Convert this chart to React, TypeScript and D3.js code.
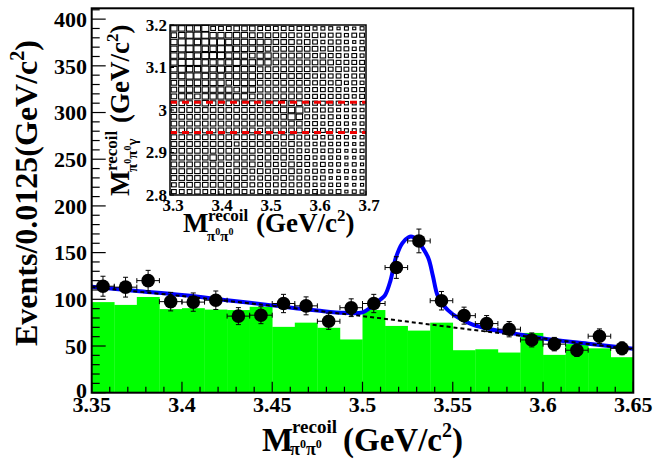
import React from 'react';
import * as d3 from 'd3';

// ---------- main histogram data ----------
const binWidth = 0.0125;
const massCenters = [3.35625, 3.36875, 3.38125, 3.39375, 3.40625, 3.41875, 3.43125, 3.44375,
  3.45625, 3.46875, 3.48125, 3.49375, 3.50625, 3.51875, 3.53125, 3.54375,
  3.55625, 3.56875, 3.58125, 3.59375, 3.60625, 3.61875, 3.63125, 3.64375];
const dataCounts = [114, 113, 120, 97.5, 97, 99, 82, 83, 95.5, 93, 76.5, 91,
  95.5, 134, 162.5, 98.5, 82.5, 74, 68, 56.5, 52, 45.5, 60.5, 47.5];
const dataErrors = [10.7, 10.6, 11.0, 9.9, 9.8, 9.9, 9.1, 9.1, 9.8, 9.6, 8.7, 9.5,
  9.8, 11.6, 12.7, 9.9, 9.1, 8.6, 8.2, 7.5, 7.2, 6.7, 7.8, 6.9];
const bkgMC = [97, 94, 102.5, 89.5, 90.5, 89, 88.5, 92, 70.5, 75, 69.5, 57,
  88.5, 71.5, 66.5, 75, 45.5, 46.5, 43, 64, 40.5, 52, 47.5, 38];

// fit curve (total)
const fitX = [3.35, 3.375, 3.4, 3.425, 3.45, 3.475, 3.49, 3.5, 3.505, 3.51, 3.5125, 3.5155, 3.5184,
  3.522, 3.5255, 3.5275, 3.53, 3.533, 3.5365, 3.539, 3.5415, 3.545, 3.55, 3.555, 3.5614, 3.5707,
  3.585, 3.6, 3.625, 3.65];
const fitY = [113.5, 109, 104.5, 99, 93.5, 88, 85.5, 86, 92, 100, 104.5, 120, 144,
  160, 166.5, 167, 164, 156, 144, 125, 104.5, 93, 84, 78.5, 72.5, 67.9,
  63, 58, 52.5, 47];
// background component
const bkgX = [3.35, 3.4, 3.45, 3.5, 3.55, 3.6, 3.65];
const bkgY = [113, 103.5, 93, 82, 70, 58, 46.5];

// axis ticks
const xTickLabels = [3.35, 3.4, 3.45, 3.5, 3.55, 3.6, 3.65];
const yTickLabels = [0, 50, 100, 150, 200, 250, 300, 350, 400];

// ---------- inset (2D box plot) ----------
const insetXTicks = [3.3, 3.4, 3.5, 3.6, 3.7];
const insetYTicks = [2.8, 2.9, 3.0, 3.1, 3.2];
const insetCutLines = [3.018, 2.947];
// box size level per cell (rows from top = 3.2 down to 2.8, 25 columns 3.3 -> 3.7)
const insetRows = [
  '8888966677766666665554545',
  '7899988888777777667666566',
  '8998999888888777676566545',
  '8999889988887777777676656',
  '8898999888788777776766565',
  '8999888898888777777776666',
  '8988989888877777777767666',
  '8899888888877787776666566',
  '7888888788877777776767565',
  '7888888878877777766666566',
  '7887888888777777766666656',
  '7777877777777787766666555',
  '7777777777777788966665555',
  '7777777777777779866565555',
  '7777777777777777766565545',
  '7777777777767777766656555',
  '7777777777777677666565545',
  '7777777767777767665655545',
  '7777777777767776656565455',
  '7777787777767676665555445',
  '7777777677767667665655454',
  '7777777677676767656554545',
  '7777777777667676665645455',
  '6777777777666666665555444',
  '6667667676566566556556455',
];

const FONT = "'Liberation Serif', 'DejaVu Serif', serif";

export default function App() {
  const W = 653, H = 459;
  const L = 91.7, R = 633.3, T = 8.3, B = 392.7;
  const x = d3.scaleLinear().domain([3.35, 3.65]).range([L, R]);
  const y = d3.scaleLinear().domain([0, 411.6]).range([B, T]);

  const line = d3.line<[number, number]>()
    .x(d => x(d[0])).y(d => y(d[1]))
    .curve(d3.curveCatmullRom.alpha(0.5));
  const fitPath = line(fitX.map((v, i) => [v, fitY[i]] as [number, number])) || '';
  const bkgPath = line(bkgX.map((v, i) => [v, bkgY[i]] as [number, number])) || '';

  const xMinor = d3.range(0, 31).map(i => 3.35 + i * 0.01);
  const yMinor = d3.range(0, 42).map(i => i * 10);

  // inset
  const iL = 170, iR = 366, iT = 25, iB = 195;
  const ix = d3.scaleLinear().domain([3.3, 3.7]).range([iL, iR]);
  const iy = d3.scaleLinear().domain([2.8, 3.2]).range([iB, iT]);
  const nCols = 25, nRows = 25;
  const cw = (3.7 - 3.3) / nCols, ch = (3.2 - 2.8) / nRows;
  const cellW = ix(3.3 + cw) - ix(3.3);
  const cellH = iy(2.8) - iy(2.8 + ch);

  const boxes: any[] = [];
  insetRows.forEach((row, r) => {
    row.split('').forEach((c, i) => {
      const lv = +c;
      if (!lv) return;
      const cx = ix(3.3 + (i + 0.5) * cw);
      const cy = iy(3.2 - (r + 0.5) * ch);
      const w = cellW * lv / 10, h = cellH * lv / 10;
      boxes.push(<rect key={`b${r}-${i}`} x={cx - w / 2} y={cy - h / 2} width={w} height={h}
        fill="white" stroke="black" strokeWidth={1.1} />);
    });
  });

  const txt = { fontFamily: FONT, fontWeight: 700 } as React.CSSProperties;

  return (
    <svg width={W} height={H} style={{ position: 'absolute', left: 0, top: 0, background: 'white', ...txt }}>
      <rect x={0} y={0} width={W} height={H} fill="white" />
      {/* MC histogram */}
      {bkgMC.map((v, i) => (
        <rect key={`h${i}`} x={x(massCenters[i] - binWidth / 2)} y={y(v)}
          width={x(massCenters[i] + binWidth / 2) - x(massCenters[i] - binWidth / 2) + 0.3}
          height={B - y(v)} fill="#00ff00" />
      ))}
      {/* fit */}
      <path d={fitPath} fill="none" stroke="#0000ff" strokeWidth={4} />
      <path d={bkgPath} fill="none" stroke="black" strokeWidth={2} strokeDasharray="4,3" />
      {/* data points */}
      {dataCounts.map((v, i) => {
        const cx = x(massCenters[i]);
        const cy = y(v);
        const x0 = x(massCenters[i] - binWidth / 2), x1 = x(massCenters[i] + binWidth / 2);
        const y0 = y(v - dataErrors[i]), y1 = y(v + dataErrors[i]);
        return (
          <g key={`p${i}`} stroke="black" strokeWidth={1}>
            <line x1={x0} x2={x1} y1={cy} y2={cy} />
            <line x1={cx} x2={cx} y1={y0} y2={y1} />
            <line x1={x0} x2={x0} y1={cy - 2.5} y2={cy + 2.5} />
            <line x1={x1} x2={x1} y1={cy - 2.5} y2={cy + 2.5} />
            <line x1={cx - 2.5} x2={cx + 2.5} y1={y0} y2={y0} />
            <line x1={cx - 2.5} x2={cx + 2.5} y1={y1} y2={y1} />
            <circle cx={cx} cy={cy} r={6.8} fill="black" stroke="none" />
          </g>
        );
      })}
      {/* frame */}
      <rect x={L} y={T} width={R - L} height={B - T} fill="none" stroke="black" strokeWidth={2} />
      {/* x ticks */}
      {xMinor.map((v, i) => {
        const major = i % 5 === 0;
        return <line key={`xt${i}`} x1={x(v)} x2={x(v)} y1={B} y2={B - (major ? 11 : 6)} stroke="black" strokeWidth={1.2} />;
      })}
      {yMinor.map((v, i) => {
        const major = i % 5 === 0;
        return <line key={`yt${i}`} x1={L} x2={L + (major ? 14 : 8)} y1={y(v)} y2={y(v)} stroke="black" strokeWidth={1.2} />;
      })}
      {xTickLabels.map(v => (
        <text key={`xl${v}`} x={x(v)} y={412} textAnchor="middle" fontSize={22} style={txt}>{String(v)}</text>
      ))}
      {yTickLabels.map(v => (
        <text key={`yl${v}`} x={87} y={y(v) - (v === 0 ? 2 : 0)} dy="0.35em" textAnchor="end" fontSize={22} style={txt}>{String(v)}</text>
      ))}
      {/* y title */}
      <text transform="translate(37,193) rotate(-90)" textAnchor="middle" fontSize={32} style={txt}>
        Events/0.0125(GeV/c<tspan fontSize={20} dy={-13}>2</tspan><tspan dy={13}>)</tspan>
      </text>
      {/* x title */}
      <text x={262} y={451} fontSize={33} style={txt}>M</text>
      <text x={292} y={433} fontSize={19} style={txt}>recoil</text>
      <text x={290} y={455} fontSize={18} style={txt}>π<tspan fontSize={12} dy={-7}>0</tspan><tspan dy={7}>π</tspan><tspan fontSize={12} dy={-7}>0</tspan></text>
      <text x={343} y={451} fontSize={33} style={txt}>(GeV/c<tspan fontSize={20} dy={-14}>2</tspan><tspan dy={14}>)</tspan></text>

      {/* inset */}
      <rect x={iL} y={iT} width={iR - iL} height={iB - iT} fill="white" />
      {boxes}
      {insetCutLines.map(v => (
        <line key={`cut${v}`} x1={iL} x2={iR} y1={iy(v)} y2={iy(v)} stroke="#ee0000" strokeWidth={3} strokeDasharray="7,5" />
      ))}
      <rect x={iL} y={iT} width={iR - iL} height={iB - iT} fill="none" stroke="black" strokeWidth={1.5} />
      {insetXTicks.map(v => (
        <line key={`ixt${v}`} x1={ix(v)} x2={ix(v)} y1={iB} y2={iB - 4} stroke="black" />
      ))}
      {insetYTicks.map(v => (
        <line key={`iyt${v}`} x1={iL} x2={iL + 4} y1={iy(v)} y2={iy(v)} stroke="black" />
      ))}
      {insetXTicks.map(v => (
        <text key={`ixl${v}`} x={ix(v) + 3} y={211} textAnchor="middle" fontSize={17} style={txt}>{String(v)}</text>
      ))}
      {insetYTicks.map(v => (
        <text key={`iyl${v}`} x={167} y={iy(v)} dy="0.35em" textAnchor="end" fontSize={17} style={txt}>{String(v)}</text>
      ))}
      {/* inset x title */}
      <text x={183} y={232} fontSize={27} style={txt}>M</text>
      <text x={208} y={221} fontSize={17} style={txt}>recoil</text>
      <text x={207} y={241} fontSize={15} style={txt}>π<tspan fontSize={10} dy={-6}>0</tspan><tspan dy={6}>π</tspan><tspan fontSize={10} dy={-6}>0</tspan></text>
      <text x={256} y={232} fontSize={27} style={txt}>(GeV/c<tspan fontSize={17} dy={-11}>2</tspan><tspan dy={11}>)</tspan></text>
      {/* inset y title */}
      <g transform="translate(129,196) rotate(-90)">
        <text x={0} y={0} fontSize={27} style={txt}>M</text>
        <text x={25} y={-12} fontSize={17} style={txt}>recoil</text>
        <text x={24} y={8} fontSize={15} style={txt}>π<tspan fontSize={10} dy={-6}>0</tspan><tspan dy={6}>π</tspan><tspan fontSize={10} dy={-6}>0</tspan><tspan dy={6}>γ</tspan></text>
        <text x={73} y={0} fontSize={27} style={txt}>(GeV/c<tspan fontSize={17} dy={-11}>2</tspan><tspan dy={11}>)</tspan></text>
      </g>
    </svg>
  );
}
